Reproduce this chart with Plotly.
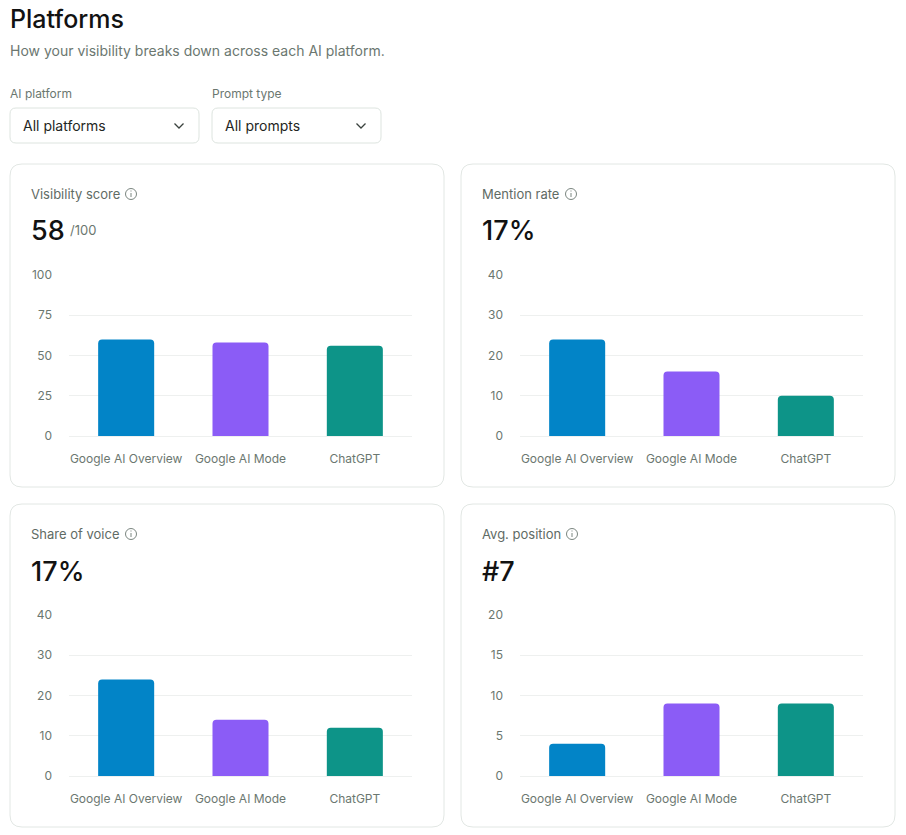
import plotly.graph_objects as go

W, H = 906, 835

# ---- data ----
platforms = ["Google AI Overview", "Google AI Mode", "ChatGPT"]
bar_colors = ["#0284c7", "#8b5cf6", "#0d9488"]
visibility_score = [60, 58, 56]
mention_rate = [24, 16, 10]
share_of_voice = [24, 14, 12]
avg_position = [4, 9, 9]

card_titles = ["Visibility score", "Mention rate", "Share of voice", "Avg. position"]
card_headlines = ["58", "17%", "17%", "#7"]
card_suffix = ["/100", "", "", ""]
y_max = [100, 40, 40, 20]
y_dtick = [25, 10, 10, 5]
series = [visibility_score, mention_rate, share_of_voice, avg_position]

FONT = "Inter"
GRAY = "#6b7770"
DARK = "#121212"
BORDER = "#e2e7e4"
GRID = "#eef0ef"


def px(x):
    return x / W


def py(y):
    return 1 - y / H


def rounded(x0, y0, x1, y1, r):
    return (f"M{px(x0 + r)},{py(y0)} L{px(x1 - r)},{py(y0)} "
            f"Q{px(x1)},{py(y0)} {px(x1)},{py(y0 + r)} "
            f"L{px(x1)},{py(y1 - r)} Q{px(x1)},{py(y1)} {px(x1 - r)},{py(y1)} "
            f"L{px(x0 + r)},{py(y1)} Q{px(x0)},{py(y1)} {px(x0)},{py(y1 - r)} "
            f"L{px(x0)},{py(y0 + r)} Q{px(x0)},{py(y0)} {px(x0 + r)},{py(y0)} Z")


def label(x, y, text, size, color, weight=None):
    f = dict(family=FONT, size=size, color=color)
    if weight:
        f["weight"] = weight
    return dict(x=px(x - 2), y=py(y), xref="paper", yref="paper", text=text, showarrow=False,
                xanchor="left", yanchor="middle", font=f)


fig = go.Figure()
shapes = []
annotations = []

cards = [(10, 164), (461, 164), (10, 504), (461, 504)]
card_w, card_h = 434, 323
icon_dx = [121, 110, 121, 111]

for i, (cx, cy) in enumerate(cards):
    shapes.append(dict(type="path", xref="paper", yref="paper", path=rounded(cx, cy, cx + card_w, cy + card_h, 12),
                       line=dict(color=BORDER, width=1), fillcolor="white", layer="below"))

    annotations.append(label(cx + 21, cy + 30, card_titles[i], 13, "#5f6b65"))
    icon_x = cx + icon_dx[i]
    rr = 5.5
    shapes.append(dict(type="circle", xref="paper", yref="paper",
                       x0=px(icon_x - rr), x1=px(icon_x + rr), y0=py(cy + 30 + rr), y1=py(cy + 30 - rr),
                       line=dict(color="#7b8680", width=1)))
    shapes.append(dict(type="line", xref="paper", yref="paper",
                       x0=px(icon_x), x1=px(icon_x), y0=py(cy + 29), y1=py(cy + 33),
                       line=dict(color="#7b8680", width=1)))
    shapes.append(dict(type="line", xref="paper", yref="paper",
                       x0=px(icon_x), x1=px(icon_x), y0=py(cy + 26.5), y1=py(cy + 27.5),
                       line=dict(color="#7b8680", width=1)))

    annotations.append(label(cx + 21, cy + 67, card_headlines[i], 27, DARK, 500))
    if card_suffix[i]:
        annotations.append(label(cx + 60, cy + 66, card_suffix[i], 13, GRAY))

    ax0, ax1 = cx + 59, cx + 402
    ay_top, ay_bot = cy + 111, cy + 272
    n = i + 1
    xa = "x" if n == 1 else f"x{n}"
    ya = "y" if n == 1 else f"y{n}"
    fig.add_trace(go.Bar(x=platforms, y=series[i],
                         marker=dict(color=bar_colors, cornerradius=4, line=dict(width=0)),
                         xaxis=xa, yaxis=ya, showlegend=False, width=0.49, hoverinfo="x+y"))
    fig.layout[f"xaxis{'' if n == 1 else n}"] = dict(
        domain=[px(ax0), px(ax1)], anchor=ya, showgrid=False, zeroline=False, showline=False,
        ticks="", tickfont=dict(family=FONT, size=12, color=GRAY), fixedrange=True,
        ticklabelstandoff=14, automargin=False)
    fig.layout[f"yaxis{'' if n == 1 else n}"] = dict(
        domain=[py(ay_bot), py(ay_top)], anchor=xa, range=[0, y_max[i]], dtick=y_dtick[i],
        showgrid=True, gridcolor=GRID, gridwidth=1, zeroline=True, zerolinecolor=GRID, zerolinewidth=1,
        showline=False, ticks="", tickfont=dict(family=FONT, size=12, color=GRAY), fixedrange=True,
        ticklabelstandoff=16, automargin=False)

# ---- page header ----
annotations.append(label(10, 19, "Platforms", 25, DARK, 500))
annotations.append(label(10, 51, "How your visibility breaks down across each AI platform.", 14, GRAY))

filters = [("AI platform", "All platforms", 10, 199), ("Prompt type", "All prompts", 212, 381)]
for lab, value, fx0, fx1 in filters:
    annotations.append(label(fx0, 93, lab, 12, GRAY))
    shapes.append(dict(type="path", xref="paper", yref="paper", path=rounded(fx0, 108, fx1, 143, 6),
                       line=dict(color="#dde4df", width=1), fillcolor="white", layer="below"))
    annotations.append(label(fx0 + 13, 126, value, 14, "#1f2623"))
    chx = fx1 - 20
    shapes.append(dict(type="path", xref="paper", yref="paper",
                       path=f"M{px(chx - 4.5)},{py(123.5)} L{px(chx)},{py(128)} L{px(chx + 4.5)},{py(123.5)}",
                       line=dict(color="#3a423e", width=1.3)))

fig.update_layout(width=W, height=H, margin=dict(l=0, r=0, t=0, b=0, pad=0, autoexpand=False),
                  paper_bgcolor="white",
                  plot_bgcolor="rgba(0,0,0,0)", shapes=shapes, annotations=annotations, bargap=0.51,
                  font=dict(family=FONT), showlegend=False)

fig.write_html("out.html", config={"displayModeBar": False},
               post_script="document.body.style.margin='0';document.body.style.overflow='hidden';")
